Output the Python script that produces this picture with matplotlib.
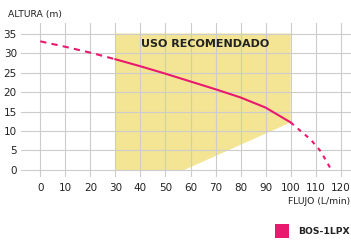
import matplotlib
matplotlib.use('Agg')
import matplotlib.pyplot as plt
from matplotlib.patches import Polygon, Rectangle

plt.rcParams['font.family'] = ['DejaVu Sans']

# pump curve (flow L/min, head m)
flow = [0, 10, 20, 30, 40, 50, 60, 70, 80, 90, 100, 104, 108, 112, 116]
head = [33.0, 31.6, 30.1, 28.4, 26.6, 24.7, 22.7, 20.7, 18.6, 16.0, 12.2, 10.0, 7.8, 4.8, 0.3]
rec_min, rec_max = 30, 100

# recommended use zone
zone_x = [30, 30, 100, 100, 57.5]
zone_y = [0, 35, 35, 12.2, 0]

x_ticks = list(range(0, 121, 10))
y_ticks = list(range(0, 36, 5))
series_name = 'BOS-1LPX'

pink = '#e8196e'
yellow = '#f3e594'
grid_c = '#cccccc'
text_c = '#222222'

fig = plt.figure(figsize=(3.51, 2.41), dpi=100)
ax = fig.add_axes([21 / 351, 64 / 241, 330 / 351, 154 / 241])
ax.set_xlim(-7.7, 124.1)
ax.set_ylim(-1.8, 37.7)

ax.add_patch(Polygon(list(zip(zone_x, zone_y)), closed=True,
                     facecolor=yellow, edgecolor='none', zorder=0))

ax.set_xticks(x_ticks)
ax.set_yticks(y_ticks)
ax.grid(True, color=grid_c, linewidth=0.8, zorder=1)
ax.set_axisbelow(False)
for s in ax.spines.values():
    s.set_visible(False)
ax.tick_params(length=0, labelsize=7.5, colors=text_c)
ax.tick_params(axis='x', pad=4)
ax.tick_params(axis='y', pad=3)

# split the curve into dashed / solid parts
pre = [(f, h) for f, h in zip(flow, head) if f <= rec_min]
mid = [(f, h) for f, h in zip(flow, head) if rec_min <= f <= rec_max]
post = [(f, h) for f, h in zip(flow, head) if f >= rec_max]
for part, ls in ((pre, (0, (3, 2.5))), (mid, '-'), (post, (0, (2, 2.5)))):
    xs, ys = zip(*part)
    ax.plot(xs, ys, color=pink, linewidth=1.5, linestyle=ls, zorder=3)

ax.text(65.8, 32.4, 'USO RECOMENDADO', ha='center', va='center',
        fontsize=8, fontweight='bold', color=text_c, zorder=4)

fig.text(8 / 351, 1 - 15 / 241, 'ALTURA (m)', ha='left', va='center',
         fontsize=6.7, color=text_c)
fig.text(350 / 351, 1 - 202 / 241, 'FLUJO (L/min)', ha='right', va='center',
         fontsize=6.7, color=text_c)

fig.patches.append(Rectangle((275 / 351, 1 - 238 / 241), 14 / 351, 14 / 241,
                             transform=fig.transFigure, facecolor=pink,
                             edgecolor='none'))
fig.text(298 / 351, 1 - 231 / 241, series_name, ha='left', va='center',
         fontsize=6.7, fontweight='bold', color=text_c)

fig.savefig('out.png', dpi=100)
